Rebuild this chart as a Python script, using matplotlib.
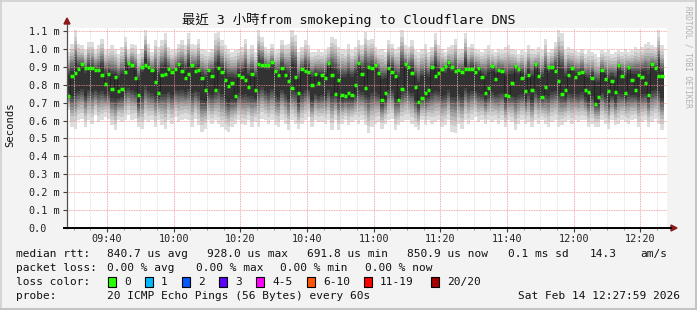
import matplotlib
matplotlib.use('Agg')
import matplotlib.pyplot as plt
import numpy as np
from matplotlib.patches import Rectangle, Polygon
from matplotlib.lines import Line2D

# ---------------- data ----------------
median_ms = [
    0.826, 0.736, 0.848, 0.868, 0.885, 0.913, 0.894, 0.896, 0.894, 0.880, 0.880, 0.857, 0.805,
    0.861, 0.777, 0.844, 0.766, 0.775, 0.870, 0.922, 0.911, 0.835, 0.745, 0.900, 0.911, 0.900,
    0.881, 0.816, 0.753, 0.857, 0.861, 0.885, 0.872, 0.885, 0.913, 0.878, 0.840, 0.861, 0.909,
    0.876, 0.881, 0.839, 0.773, 0.880, 0.848, 0.768, 0.891, 0.870, 0.826, 0.794, 0.811, 0.736,
    0.857, 0.844, 0.829, 0.788, 0.859, 0.773, 0.915, 0.909, 0.911, 0.911, 0.926, 0.878, 0.857,
    0.891, 0.853, 0.822, 0.779, 0.844, 0.751, 0.885, 0.878, 0.872, 0.801, 0.859, 0.807,
    0.857, 0.839, 0.919, 0.853, 0.747, 0.829, 0.742, 0.736, 0.751, 0.742, 0.796, 0.924, 0.861,
    0.781, 0.900, 0.891, 0.909, 0.868, 0.714, 0.755, 0.896, 0.872, 0.848, 0.714, 0.777, 0.917,
    0.900, 0.863, 0.785, 0.704, 0.726, 0.755, 0.770, 0.900, 0.848, 0.863, 0.885, 0.904, 0.926,
    0.900, 0.878, 0.881, 0.872, 0.885, 0.885, 0.885, 0.872, 0.891, 0.844, 0.751, 0.783, 0.906,
    0.833, 0.881, 0.878, 0.745, 0.736, 0.807, 0.904, 0.885, 0.839, 0.766, 0.852, 0.770, 0.913,
    0.848, 0.733, 0.788, 0.900, 0.900, 0.878, 0.820, 0.747, 0.773, 0.857, 0.891, 0.844, 0.863, 0.872,
    0.773, 0.760, 0.840, 0.690, 0.733, 0.880, 0.831, 0.764, 0.820, 0.757, 0.909, 0.848, 0.751,
    0.900, 0.826, 0.768, 0.857, 0.844, 0.811, 0.745, 0.917, 0.894, 0.848, 0.848,
]
max_ms = [
    1.040, 0.984, 1.030, 1.105, 1.030, 1.021, 0.993, 1.040, 1.040, 0.993, 1.021, 1.058, 0.993,
    1.002, 1.021, 1.002, 0.974, 1.012, 1.068, 0.993, 1.030, 1.021, 0.974, 1.002, 1.105, 1.030,
    0.984, 1.049, 1.012, 1.049, 1.086, 1.012, 0.993, 1.002, 1.030, 1.049, 1.021, 1.086, 1.030,
    1.021, 1.058, 1.002, 0.993, 0.984, 1.002, 1.086, 1.096, 1.049, 1.021, 1.002, 0.984, 0.993,
    1.002, 1.012, 1.058, 0.993, 1.021, 0.984, 1.105, 1.068, 1.012, 1.002, 1.030, 0.993, 1.002,
    1.049, 1.021, 1.030, 1.105, 1.077, 0.984, 1.012, 1.049, 1.021, 0.984, 0.984, 0.993,
    0.984, 0.993, 1.012, 1.068, 1.058, 1.012, 1.002, 0.993, 1.030, 0.993, 1.012, 1.049, 1.021,
    1.096, 1.049, 1.058, 1.012, 0.993, 1.002, 0.984, 1.049, 1.030, 1.002, 1.012, 1.105, 1.021,
    1.012, 1.049, 0.993, 0.984, 1.002, 1.030, 0.984, 1.012, 1.086, 1.021, 1.002, 0.984, 1.012,
    1.021, 1.058, 0.993, 1.002, 1.086, 1.012, 1.030, 1.002, 0.993, 0.984, 1.002, 1.021, 0.993,
    0.984, 1.002, 0.993, 1.012, 1.021, 1.002, 0.993, 0.974, 0.993, 0.984, 1.021, 1.002, 0.993,
    1.012, 0.993, 1.058, 0.984, 1.002, 1.040, 1.105, 1.086, 0.993, 1.012, 1.002, 0.993, 0.984, 1.002,
    0.974, 0.993, 0.984, 0.974, 0.956, 0.993, 0.984, 0.993, 0.974, 0.984, 0.993, 0.984, 1.002,
    0.984, 0.993, 1.012, 1.002, 1.012, 1.030, 1.040, 1.021, 1.012, 1.105, 1.021,
]
min_ms = [
    0.630, 0.658, 0.565, 0.555, 0.602, 0.611, 0.565, 0.602, 0.583, 0.630, 0.593, 0.602, 0.621,
    0.611, 0.574, 0.546, 0.602, 0.593, 0.602, 0.630, 0.602, 0.611, 0.565, 0.555, 0.602, 0.593,
    0.602, 0.565, 0.602, 0.574, 0.555, 0.602, 0.583, 0.621, 0.593, 0.602, 0.611, 0.602, 0.565,
    0.611, 0.574, 0.537, 0.555, 0.602, 0.583, 0.602, 0.583, 0.565, 0.546, 0.537, 0.565, 0.583,
    0.602, 0.583, 0.574, 0.602, 0.565, 0.593, 0.565, 0.611, 0.602, 0.583, 0.602, 0.574, 0.565,
    0.602, 0.583, 0.546, 0.602, 0.583, 0.555, 0.583, 0.602, 0.621, 0.565, 0.602, 0.593,
    0.593, 0.583, 0.602, 0.546, 0.602, 0.546, 0.583, 0.602, 0.574, 0.593, 0.602, 0.583, 0.602,
    0.574, 0.528, 0.565, 0.583, 0.593, 0.555, 0.583, 0.602, 0.611, 0.546, 0.574, 0.593, 0.602,
    0.602, 0.583, 0.565, 0.546, 0.602, 0.574, 0.602, 0.583, 0.593, 0.602, 0.565, 0.574, 0.602,
    0.537, 0.528, 0.583, 0.555, 0.602, 0.583, 0.602, 0.621, 0.593, 0.602, 0.583, 0.602, 0.593,
    0.602, 0.583, 0.602, 0.565, 0.602, 0.593, 0.546, 0.583, 0.602, 0.583, 0.593, 0.565, 0.602,
    0.583, 0.602, 0.583, 0.565, 0.593, 0.602, 0.565, 0.574, 0.593, 0.602, 0.583, 0.602, 0.593, 0.602,
    0.602, 0.565, 0.583, 0.565, 0.565, 0.602, 0.583, 0.555, 0.602, 0.574, 0.583, 0.602, 0.593,
    0.583, 0.602, 0.611, 0.565, 0.593, 0.602, 0.565, 0.593, 0.611, 0.583, 0.546,
]
start_minute = 27          # first sample, minutes after 09:00
x_window = (27.98, 207.98)  # 09:27:59 .. 12:27:59
x_tick_minutes = [40, 60, 80, 100, 120, 140, 160, 180, 200]
x_tick_labels = ["09:40", "10:00", "10:20", "10:40", "11:00", "11:20", "11:40", "12:00", "12:20"]
y_ticks = [0.0, 0.1, 0.2, 0.3, 0.4, 0.5, 0.6, 0.7, 0.8, 0.9, 1.0, 1.1]
y_tick_labels = ["0.0", "0.1 m", "0.2 m", "0.3 m", "0.4 m", "0.5 m", "0.6 m", "0.7 m",
                 "0.8 m", "0.9 m", "1.0 m", "1.1 m"]
title = "最近 3 小時from smokeping to Cloudflare DNS"
loss_labels = ["0", "1", "2", "3", "4-5", "6-10", "11-19", "20/20"]
loss_colors = ["#26ff00", "#00b8ff", "#0059ff", "#5e00ff", "#ff00ff", "#ff5500", "#ff0000", "#a10000"]
rtt_stats = ["840.7 us avg", "928.0 us max", "691.8 us min", "850.9 us now", "0.1 ms sd", "14.3", "am/s"]
loss_stats = ["0.00 % avg", "0.00 % max", "0.00 % min", "0.00 % now"]
probe_text = "20 ICMP Echo Pings (56 Bytes) every 60s"
date_text = "Sat Feb 14 12:27:59 2026"

# ---------------- figure ----------------
W, H = 697, 310
MONO = ['DejaVu Sans Mono', 'Noto Sans CJK TC']
plt.rcParams['font.family'] = MONO

fig = plt.figure(figsize=(W / 100, H / 100), dpi=100)
fig.patch.set_facecolor('#f3f3f3')


def fx(x):
    return x / W


def fy(y):
    return 1 - y / H


px_per_ms = 179.1
ax = fig.add_axes([fx(67), fy(228), 600 / W, 200 / H])
ax.set_facecolor('white')
ax.set_xlim(*x_window)
ax.set_ylim(0, 200 / px_per_ms)

med = np.array(median_ms)
lo = np.array(min_ms)
hi = np.array(max_ms)
n = len(med)
t = start_minute + np.arange(n + 1)


def ext(a):
    return np.append(a, a[-1])


# smoke: 10 nested bands (smokeping grey ramp), outer = min..max envelope
centre = 0.7 * (lo + hi) / 2 + 0.3 * med
frac = [1.0, 0.86, 0.76, 0.68, 0.61, 0.55, 0.49, 0.43, 0.37, 0.30]
for k, f in enumerate(frac):
    g = int(190 / 10 * (10 - (k + 1))) + 50
    col = '#%02x%02x%02x' % (g, g, g)
    lo_k = centre - (centre - lo) * f
    hi_k = centre + (hi - centre) * f
    ax.fill_between(t, ext(lo_k), ext(hi_k), step='post', color=col, lw=0,
                    antialiased=False, zorder=1)

# grid
dash = (0, (1.0, 1.0))
for m in np.arange(30, 208, 5):
    if m % 20 == 0:
        continue
    ax.axvline(m, color='#dcdcdc', lw=0.6, ls=dash, zorder=3)
for m in x_tick_minutes:
    ax.axvline(m, color='#f09090', lw=0.6, ls=dash, zorder=3)
for v in y_ticks[1:]:
    ax.axhline(v, color='#f09090', lw=0.6, ls=dash, zorder=3)

# median
ax.step(t, ext(med), where='post', color='#101010', lw=0.6, ls=(0, (1.2, 0.8)), zorder=4)
ax.hlines(med, t[:-1], t[1:], colors=loss_colors[0], lw=2.5, zorder=5)

# axes styling
for s in ['top', 'right', 'left', 'bottom']:
    ax.spines[s].set_visible(False)

ax.set_yticks(y_ticks)
ax.set_yticklabels(y_tick_labels, ha='left')
ax.tick_params(axis='y', length=3, width=0.8, color='#404040', pad=(37 - 3) * 0.72,
               labelsize=7.3, labelcolor='#222222')
ax.set_xticks(x_tick_minutes)
ax.set_xticklabels(x_tick_labels)
ax.set_xticks(np.arange(30, 208, 5), minor=True)
ax.tick_params(axis='x', which='major', length=3, width=0.8, color='#404040', pad=1.2,
               labelsize=7.3, labelcolor='#222222')
ax.tick_params(axis='x', which='minor', length=1.5, width=0.6, color='#808080')
ax.tick_params(axis='y', which='minor', length=0)

# axis lines with arrows
fig.add_artist(Line2D([fx(67), fx(67)], [fy(228), fy(24)], color='#505050', lw=0.9))
fig.add_artist(Line2D([fx(64), fx(671)], [fy(228), fy(228)], color='black', lw=1.4))
fig.add_artist(Polygon([[fx(64), fy(24)], [fx(70), fy(24)], [fx(67), fy(18)]],
                       closed=True, color='#8b1a1a', transform=fig.transFigure))
fig.add_artist(Polygon([[fx(671), fy(225)], [fx(671), fy(231)], [fx(677), fy(228)]],
                       closed=True, color='#8b1a1a', transform=fig.transFigure))

# texts
fig.text(fx(349), fy(20), title, ha='center', va='center', fontsize=9.6,
         family=MONO, color='#111111')
fig.text(fx(10), fy(125), "Seconds", rotation=90, ha='center', va='center',
         fontsize=7.6, family=MONO, color='#111111')
fig.text(fx(688), fy(6), "RRDTOOL / TOBI OETIKER", rotation=270, ha='center', va='top',
         fontsize=5.6, family=MONO, color='#b0b0b0')

fs = 8.0
tc = '#111111'
y1, y2, y3, y4 = 254, 268, 282, 296
fig.text(fx(16), fy(y1), "median rtt:", fontsize=fs, va='center', color=tc)
for s, xp in zip(rtt_stats, [107, 207, 307, 407, 508, 590, 640]):
    fig.text(fx(xp), fy(y1), s, fontsize=fs, va='center', color=tc)
fig.text(fx(16), fy(y2), "packet loss:", fontsize=fs, va='center', color=tc)
for s, xp in zip(loss_stats, [107, 196, 280, 365]):
    fig.text(fx(xp), fy(y2), s, fontsize=fs, va='center', color=tc)
fig.text(fx(16), fy(y3), "loss color:", fontsize=fs, va='center', color=tc)
box_x = [108, 145, 182, 219, 256, 307, 364, 431]
for lab, col, bx in zip(loss_labels, loss_colors, box_x):
    fig.add_artist(Rectangle((fx(bx), fy(y3 + 5)), 8 / W, 10 / H, transform=fig.transFigure,
                             facecolor=col, edgecolor='black', lw=0.8))
    fig.text(fx(bx + 16), fy(y3), lab, fontsize=fs, va='center', color=tc)
fig.text(fx(16), fy(y4), "probe:", fontsize=fs, va='center', color=tc)
fig.text(fx(107), fy(y4), probe_text, fontsize=fs, va='center', color=tc)
fig.text(fx(680), fy(y4), date_text, fontsize=fs, va='center', ha='right', color=tc)

# outer frame
fig.add_artist(Line2D([0, 1], [fy(0.5), fy(0.5)], color='#d0d0d0', lw=1.2))
fig.add_artist(Line2D([fx(0.5), fx(0.5)], [0, 1], color='#d0d0d0', lw=1.2))
fig.add_artist(Line2D([0, 1], [fy(309), fy(309)], color='#c4c4c4', lw=2.2))
fig.add_artist(Line2D([fx(696), fx(696)], [0, 1], color='#c4c4c4', lw=2.2))

fig.savefig('out.png', dpi=100, facecolor=fig.get_facecolor())
